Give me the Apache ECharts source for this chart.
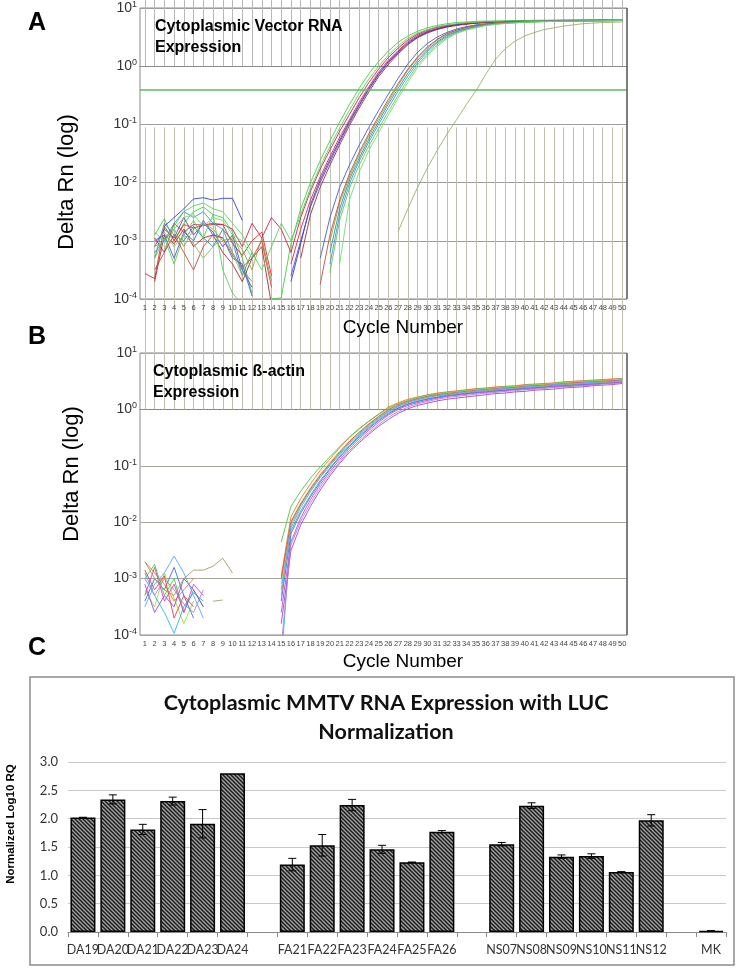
<!DOCTYPE html>
<html><head><meta charset="utf-8">
<script src="https://cdn.jsdelivr.net/npm/echarts@6/dist/echarts.min.js"></script>
<style>html,body{margin:0;padding:0;background:#fff}#c{width:745px;height:970px}</style>
</head><body><div id="c"></div>
<script>
const _ = null;
// x categories (cycle numbers) shared by panels A and B
const cycles = [1,2,3,4,5,6,7,8,9,10,11,12,13,14,15,16,17,18,19,20,21,22,23,24,25,26,27,28,29,30,31,32,33,34,35,36,37,38,39,40,41,42,43,44,45,46,47,48,49,50];
const logTicks = [-4,-3,-2,-1,0,1];

// ---------- Panel A: log10(Delta Rn), cycles 1..50 ----------
const vecThresholdLog = -0.41;
const vecE1 = [_,-2.9,-2.62,-3.0,-2.7,-2.5,-2.42,-2.55,-2.6,-2.85,
  -3.3,-3.9,_,-4.0,-3.98,-3.05,-2.45,-2.0,-1.62,-1.28,
  -0.96,-0.66,-0.38,-0.13,0.08,0.26,0.41,0.52,0.6,0.66,
  0.7,0.73,0.75,0.76,0.77,0.775,0.78,0.78,0.785,0.785,
  0.79,0.79,0.79,0.795,0.795,0.8,0.8,0.8,0.8,0.8];
const vecE2 = [-3.56,-3.65,-2.75,-3.0,-2.72,-2.78,-2.74,-2.72,-2.72,-3.05,
  -3.25,-3.0,-2.85,-3.6,_,-3.4,-2.8,-2.3,-1.9,-1.55,
  -1.22,-0.92,-0.62,-0.35,-0.1,0.1,0.27,0.42,0.53,0.6,
  0.65,0.69,0.71,0.73,0.745,0.755,0.76,0.765,0.77,0.772,
  0.775,0.777,0.78,0.78,0.782,0.784,0.785,0.787,0.788,0.79];
const vecE3 = [_,-3.1,-2.8,-2.95,-2.6,-2.9,-2.7,-2.85,-3.1,-2.9,
  -3.5,-3.8,_,_,_,-3.6,-3.0,-2.42,-2.0,-1.64,
  -1.3,-0.98,-0.68,-0.4,-0.15,0.06,0.23,0.38,0.5,0.58,
  0.64,0.68,0.71,0.73,0.745,0.755,0.76,0.765,0.77,0.775,
  0.775,0.78,0.78,0.782,0.784,0.785,0.787,0.788,0.79,0.79];
const vecE4 = [_,-2.95,-3.2,-2.7,-2.85,-2.72,-2.73,-2.7,-2.72,-2.8,
  -3.1,-2.7,-2.95,-2.6,-2.8,-3.2,-2.6,-2.15,-1.77,-1.44,
  -1.12,-0.83,-0.54,-0.28,-0.05,0.15,0.31,0.45,0.55,0.62,
  0.67,0.7,0.72,0.74,0.75,0.76,0.765,0.77,0.775,0.78,
  0.78,0.782,0.785,0.787,0.79,0.79,0.792,0.795,0.795,0.795];
const vecE5 = [_,_,-2.75,-2.6,-2.45,-2.28,-2.26,-2.3,-2.27,-2.27,
  -2.65,_,_,_,_,-3.7,-3.05,-2.38,-1.95,-1.6,
  -1.27,-0.95,-0.66,-0.38,-0.13,0.08,0.25,0.4,0.51,0.59,
  0.64,0.68,0.71,0.73,0.74,0.75,0.76,0.765,0.77,0.772,
  0.775,0.778,0.78,0.782,0.784,0.786,0.787,0.788,0.79,0.79];
const vecE6 = [_,-3.7,-2.9,-3.05,-2.8,-3.1,-2.95,-2.9,-3.2,-3.4,
  -3.7,-3.3,-3.1,-4.1,_,_,-3.3,-2.55,-2.08,-1.7,
  -1.35,-1.02,-0.72,-0.44,-0.18,0.03,0.21,0.37,0.49,0.57,
  0.63,0.67,0.7,0.72,0.74,0.75,0.76,0.765,0.77,0.775,
  0.775,0.78,0.78,0.782,0.785,0.787,0.788,0.79,0.79,0.792];
const vecE7 = [_,-2.85,-3.0,-2.75,-2.5,-2.4,-2.35,-2.45,-2.5,-2.7,
  -2.9,-3.2,-3.5,-3.1,-2.7,-3.0,-2.55,-2.1,-1.72,-1.38,
  -1.06,-0.76,-0.47,-0.22,0.0,0.19,0.35,0.48,0.57,0.63,
  0.68,0.71,0.73,0.745,0.755,0.765,0.77,0.775,0.78,0.78,
  0.785,0.785,0.79,0.79,0.79,0.795,0.795,0.795,0.8,0.8];
const vecL1 = [_,-3.0,-2.9,-3.3,-2.85,-3.0,-2.65,-2.9,-2.95,-3.3,
  -3.4,-3.95,_,_,_,_,_,_,-3.3,-2.6,
  -2.08,-1.7,-1.36,-1.05,-0.76,-0.48,-0.21,0.04,0.24,0.39,
  0.5,0.58,0.64,0.68,0.71,0.73,0.745,0.755,0.76,0.765,
  0.77,0.772,0.775,0.777,0.78,0.78,0.782,0.784,0.785,0.785];
const vecL2 = [_,-3.3,-2.7,-2.9,-3.0,-2.75,-2.95,-3.1,-2.8,-3.0,
  -3.6,-3.2,_,_,_,_,_,_,_,-3.2,
  -2.45,-1.95,-1.58,-1.25,-0.95,-0.65,-0.38,-0.12,0.1,0.28,
  0.42,0.53,0.6,0.65,0.69,0.72,0.735,0.745,0.755,0.76,
  0.765,0.77,0.772,0.775,0.777,0.78,0.78,0.782,0.784,0.785];
const vecL3 = [_,-3.3,-2.95,-3.4,-2.9,-2.65,-2.95,-2.55,-3.5,-3.9,
  -4.1,_,_,_,_,_,_,_,_,-3.55,
  -2.65,-2.1,-1.7,-1.37,-1.07,-0.78,-0.5,-0.23,0.02,0.21,
  0.37,0.49,0.57,0.63,0.67,0.7,0.72,0.735,0.745,0.755,
  0.76,0.765,0.77,0.772,0.775,0.777,0.78,0.78,0.782,0.784];
const vecL4 = [_,-3.1,-3.0,-2.8,-3.1,-2.8,-2.7,-2.8,-3.0,-2.95,
  -3.15,-3.5,-2.95,-3.7,_,_,_,_,_,-3.0,
  -2.35,-1.9,-1.52,-1.2,-0.9,-0.61,-0.33,-0.07,0.14,0.31,
  0.45,0.55,0.62,0.66,0.7,0.72,0.74,0.75,0.755,0.76,
  0.765,0.77,0.772,0.775,0.777,0.78,0.78,0.782,0.784,0.785];
const vecL5 = [_,-3.5,-3.2,-2.9,-3.2,-3.5,-3.1,-2.9,-2.95,-3.25,
  -3.45,-3.3,-3.0,-3.8,_,_,_,_,-3.75,-2.9,
  -2.3,-1.85,-1.48,-1.16,-0.86,-0.57,-0.3,-0.05,0.16,0.33,
  0.46,0.56,0.62,0.67,0.7,0.72,0.74,0.75,0.76,0.765,
  0.77,0.772,0.775,0.777,0.78,0.78,0.782,0.784,0.785,0.787];
const vecL6 = [_,-3.2,-3.0,-2.7,-2.5,-2.6,-2.5,-2.7,-2.8,-3.2,
  -3.5,-3.7,_,_,_,_,_,_,_,-3.4,
  -2.55,-2.02,-1.63,-1.3,-1.0,-0.71,-0.43,-0.17,0.06,0.25,
  0.4,0.51,0.59,0.64,0.68,0.71,0.73,0.74,0.75,0.76,
  0.765,0.77,0.772,0.775,0.777,0.78,0.78,0.782,0.783,0.785];
const vecL7 = [_,_,-3.15,-2.8,-2.6,-2.55,-2.75,-2.6,-2.65,-2.9,
  -3.0,-3.3,_,_,_,_,_,_,_,_,
  -3.4,-2.3,-1.82,-1.45,-1.14,-0.84,-0.55,-0.28,-0.02,0.18,
  0.34,0.47,0.56,0.62,0.66,0.7,0.72,0.735,0.745,0.755,
  0.76,0.765,0.77,0.772,0.775,0.777,0.78,0.78,0.782,0.784];
const vecV1 = [_,-3.0,-2.85,-3.1,-2.9,-3.05,-3.3,-3.1,-2.95,-3.2,
  -3.6,_,_,_,_,_,_,_,_,_,
  _,_,_,_,_,_,-2.84,-2.45,-2.08,-1.75,
  -1.45,-1.17,-0.92,-0.66,-0.42,-0.14,0.12,0.3,0.43,0.52,
  0.58,0.63,0.66,0.69,0.71,0.73,0.74,0.75,0.755,0.76];
const vecSeries = [vecE1,vecE2,vecE3,vecE4,vecE5,vecE6,vecE7,vecL1,vecL2,vecL3,vecL4,vecL5,vecL6,vecL7,vecV1];
const vecColors = ['#3ed23e','#e0302a','#6a3fd0','#d02050','#3040e0','#a82a30','#58d458',
  '#4060d0','#2a9a8a','#5ccc5c','#9aa040','#c05040','#4a90d0','#70dd70','#95b565'];

// ---------- Panel B: log10(Delta Rn), cycles 1..50 ----------
const actB1 = [-2.7,-2.9,-3.1,-3.4,-3.2,-3.0,_,_,_,_,
  _,_,_,_,-2.95,-1.9,-1.58,-1.32,-1.08,-0.88,
  -0.68,-0.5,-0.35,-0.21,-0.08,0.04,0.12,0.18,0.22,0.26,
  0.29,0.31,0.33,0.35,0.37,0.38,0.4,0.41,0.42,0.44,
  0.45,0.46,0.47,0.49,0.5,0.51,0.52,0.53,0.54,0.55];
const actB2 = [-3.0,-2.75,-3.3,-3.0,-3.6,-3.2,-3.5,_,_,_,
  _,_,_,_,-2.35,-1.72,-1.45,-1.22,-1.02,-0.84,
  -0.66,-0.49,-0.34,-0.21,-0.09,0.02,0.1,0.16,0.21,0.25,
  0.28,0.3,0.32,0.34,0.36,0.37,0.39,0.4,0.41,0.43,
  0.44,0.45,0.46,0.48,0.49,0.5,0.51,0.52,0.53,0.54];
const actB3 = [-3.2,-3.5,-2.9,-3.35,-3.8,-3.4,_,_,_,_,
  _,_,_,_,-3.1,-1.98,-1.66,-1.39,-1.15,-0.94,
  -0.74,-0.56,-0.4,-0.25,-0.12,0.0,0.09,0.15,0.2,0.24,
  0.27,0.29,0.31,0.33,0.35,0.36,0.38,0.39,0.4,0.42,
  0.43,0.44,0.45,0.47,0.48,0.49,0.5,0.51,0.52,0.53];
const actB4 = [-2.9,-3.3,-3.6,-3.97,-3.5,-3.25,-3.4,_,_,_,
  _,_,_,_,-4.5,-2.15,-1.8,-1.52,-1.26,-1.04,
  -0.83,-0.64,-0.47,-0.32,-0.18,-0.06,0.03,0.1,0.15,0.19,
  0.22,0.25,0.27,0.29,0.31,0.32,0.34,0.35,0.36,0.38,
  0.39,0.4,0.42,0.43,0.44,0.45,0.46,0.47,0.48,0.49];
const actB5 = [-3.4,-3.0,-3.2,-2.8,-3.3,-3.7,_,_,_,_,
  _,_,_,_,-3.4,-2.2,-1.84,-1.55,-1.29,-1.06,
  -0.85,-0.66,-0.49,-0.34,-0.2,-0.08,0.02,0.09,0.14,0.18,
  0.21,0.24,0.26,0.28,0.3,0.31,0.33,0.34,0.36,0.37,
  0.38,0.4,0.41,0.42,0.43,0.44,0.45,0.46,0.47,0.48];
const actB6 = [-3.1,-3.6,-3.3,-3.5,-3.0,-3.2,-3.5,_,_,_,
  _,_,_,_,-3.8,-2.5,-2.05,-1.72,-1.43,-1.18,
  -0.96,-0.76,-0.59,-0.44,-0.3,-0.18,-0.07,0.01,0.07,0.11,
  0.15,0.18,0.2,0.22,0.24,0.26,0.28,0.29,0.31,0.32,
  0.34,0.35,0.36,0.38,0.39,0.4,0.42,0.43,0.44,0.46];
const actB7 = [-3.3,-2.8,-3.4,-3.1,-3.6,-3.1,-3.3,_,_,_,
  _,_,_,_,-3.6,-2.35,-1.92,-1.6,-1.33,-1.1,
  -0.89,-0.69,-0.52,-0.37,-0.23,-0.1,0.0,0.07,0.12,0.16,
  0.2,0.23,0.25,0.27,0.29,0.3,0.32,0.33,0.35,0.36,
  0.37,0.39,0.4,0.41,0.42,0.43,0.44,0.46,0.47,0.48];
const actB8 = [-2.85,-3.2,-2.95,-3.7,-3.3,-3.5,_,_,_,_,
  _,_,_,_,-3.0,-2.0,-1.68,-1.41,-1.17,-0.96,
  -0.76,-0.57,-0.41,-0.26,-0.13,-0.01,0.08,0.14,0.19,0.23,
  0.26,0.28,0.3,0.32,0.34,0.35,0.37,0.38,0.39,0.41,
  0.42,0.43,0.44,0.46,0.47,0.48,0.49,0.5,0.51,0.52];
const actB9 = [-2.7,-3.0,-3.2,-3.3,-3.0,-2.85,-2.85,-2.78,-2.64,-2.9,
  _,_,_,_,-3.3,-2.1,-1.74,-1.46,-1.21,-1.0,
  -0.8,-0.61,-0.45,-0.3,-0.16,-0.04,0.05,0.12,0.17,0.21,
  0.24,0.26,0.28,0.3,0.32,0.33,0.35,0.36,0.37,0.39,
  0.4,0.41,0.43,0.44,0.45,0.46,0.47,0.48,0.49,0.5];
const actB10 = [-3.5,-3.1,-2.9,-2.6,-2.9,-3.3,-3.7,_,_,_,
  _,_,_,_,-3.2,-2.05,-1.7,-1.43,-1.19,-0.98,
  -0.78,-0.59,-0.43,-0.28,-0.15,-0.03,0.06,0.13,0.18,0.22,
  0.25,0.27,0.29,0.31,0.33,0.34,0.36,0.37,0.38,0.4,
  0.41,0.42,0.44,0.45,0.46,0.47,0.48,0.49,0.5,0.51];
const actB11 = [-3.0,-3.3,-3.0,-3.2,-3.45,-3.6,-3.2,_,_,_,
  _,_,_,_,-4.2,-2.4,-1.98,-1.66,-1.38,-1.14,
  -0.93,-0.73,-0.56,-0.41,-0.27,-0.14,-0.04,0.04,0.1,0.14,
  0.18,0.21,0.23,0.25,0.27,0.29,0.3,0.32,0.33,0.35,
  0.36,0.37,0.39,0.4,0.41,0.42,0.43,0.45,0.46,0.47];
const actB12 = [_,_,_,_,_,_,_,-3.4,-3.38,_,
  _,_,_,_,_,_,_,_,_,_,
  _,_,_,_,_,_,_,_,_,_,
  _,_,_,_,_,_,_,_,_,_,
  _,_,_,_,_,_,_,_,_,_];
const actSeries = [actB1,actB2,actB3,actB4,actB5,actB6,actB7,actB8,actB9,actB10,actB11,actB12];
const actColors = ['#f07820','#48c848','#a8d838','#30b8d8','#3a70e0','#9848d8','#d048c8','#e04848','#a89868','#58a8f0','#b080e0','#a8a070'];

// ---------- Panel C ----------
const cCategories = ['DA19','DA20','DA21','DA22','DA23','DA24','','FA21','FA22','FA23','FA24','FA25','FA26','','NS07','NS08','NS09','NS10','NS11','NS12','','MK'];
const cValues = [2.02,2.34,1.81,2.31,1.91,2.80,_,1.19,1.53,2.24,1.46,1.23,1.77,_,1.55,2.23,1.33,1.34,1.06,1.97,_,0.02];
const cErrors = [0.005,0.08,0.09,0.07,0.25,0,_,0.11,0.19,0.10,0.07,0.005,0.02,_,0.03,0.05,0.03,0.04,0.005,0.10,_,0.005];
const cTicks = [0,0.5,1,1.5,2,2.5,3];

function hatch(){
  const cv = document.createElement('canvas'); cv.width = 4; cv.height = 4;
  const g = cv.getContext('2d');
  g.fillStyle = '#a4a4a4'; g.fillRect(0,0,4,4);
  g.strokeStyle = '#1c1c1c'; g.lineWidth = 1.5;
  g.beginPath();
  g.moveTo(-1,-1); g.lineTo(5,5);
  g.moveTo(-1,3); g.lineTo(1,5);
  g.moveTo(3,-1); g.lineTo(5,1);
  g.stroke();
  return cv;
}

const FONT = 'Liberation Sans, Arial, sans-serif';
const chart = echarts.init(document.getElementById('c'), null, {renderer:'canvas'});

function logAxisLabel(){
  return {
    margin: 3,
    formatter: v => '{b|10}{s|' + v + '}',
    rich: {
      b: {fontSize: 14, color: '#333', fontFamily: FONT, lineHeight: 16},
      s: {fontSize: 9, color: '#333', fontFamily: FONT, lineHeight: 10, verticalAlign: 'top'}
    }
  };
}
function cycleXAxis(gi, h, tickColor){
  return {
    gridIndex: gi, type: 'category', data: cycles, boundaryGap: true,
    axisLine: {show: true, lineStyle: {color: '#888', width: 1}},
    axisTick: {show: true, alignWithLabel: true, inside: true, length: h, interval: 0, lineStyle: {color: tickColor, width: 1}},
    axisLabel: {interval: 0, fontSize: 7.5, color: '#444', margin: 5, fontFamily: FONT},
    splitLine: {show: false}
  };
}
function logYAxis(gi, splitColor){
  return {
    gridIndex: gi, type: 'value', min: logTicks[0], max: logTicks[logTicks.length-1], interval: 1,
    axisLine: {show: false}, axisTick: {show: false},
    splitLine: {show: true, lineStyle: {color: splitColor, width: 1}},
    axisLabel: logAxisLabel()
  };
}

const series = [];
vecSeries.forEach((d, i) => {
  series.push({type: 'line', xAxisIndex: 0, yAxisIndex: 0, data: d, symbol: 'none', showSymbol: false,
    connectNulls: false, silent: true, animation: false, z: 3,
    lineStyle: {width: 1, color: vecColors[i], opacity: 0.9}});
});
series[0].markLine = {silent: true, symbol: 'none', animation: false,
  data: [{yAxis: vecThresholdLog}], label: {show: false},
  lineStyle: {color: '#5fb85f', width: 1.5, type: 'solid'}};
actSeries.forEach((d, i) => {
  series.push({type: 'line', xAxisIndex: 1, yAxisIndex: 1, data: d, symbol: 'none', showSymbol: false,
    connectNulls: false, silent: true, animation: false, z: 3,
    lineStyle: {width: 1, color: actColors[i], opacity: 0.9}});
});
series.push({type: 'bar', xAxisIndex: 2, yAxisIndex: 2, data: cValues, barWidth: 25, animation: false, silent: true,
  itemStyle: {color: {image: hatch(), repeat: 'repeat'}, borderColor: '#000', borderWidth: 1.5}});
const errData = [];
cValues.forEach((v, i) => { if (v != null && cErrors[i] > 0) errData.push([i, v - cErrors[i], v + cErrors[i]]); });
series.push({type: 'custom', xAxisIndex: 2, yAxisIndex: 2, data: errData, z: 5, animation: false, silent: true,
  encode: {x: 0, y: [1, 2]},
  renderItem: (params, api) => {
    const x = api.value(0), lo = api.coord([x, api.value(1)]), hi = api.coord([x, api.value(2)]);
    const w = 4, st = {stroke: '#000', lineWidth: 1};
    return {type: 'group', children: [
      {type: 'line', shape: {x1: lo[0], y1: lo[1], x2: hi[0], y2: hi[1]}, style: st},
      {type: 'line', shape: {x1: lo[0]-w, y1: lo[1], x2: lo[0]+w, y2: lo[1]}, style: st},
      {type: 'line', shape: {x1: hi[0]-w, y1: hi[1], x2: hi[0]+w, y2: hi[1]}, style: st}
    ]};
  }});

function txt(x, y, text, size, opts){
  return Object.assign({type: 'text', x: x, y: y, silent: true, z: 10,
    style: Object.assign({text: text, fontSize: size, fontFamily: FONT, fill: '#000', align: 'left', verticalAlign: 'middle'}, (opts && opts.style) || {})},
    (opts && opts.el) || {});
}

chart.setOption({
  animation: false,
  backgroundColor: '#fff',
  grid: [
    {left: 140, top: 8, width: 487, height: 291, show: true, borderColor: '#8a8a8a', borderWidth: 1, backgroundColor: '#fff'},
    {left: 140, top: 353, width: 487, height: 282, show: true, borderColor: '#8a8a8a', borderWidth: 1, backgroundColor: '#fff'},
    {left: 68, top: 762, width: 658, height: 170, show: false}
  ],
  xAxis: [
    cycleXAxis(0, 291, '#b8b8b8'),
    cycleXAxis(1, 282, '#c2beb2'),
    {gridIndex: 2, type: 'category', data: cCategories, boundaryGap: true,
     axisLine: {show: true, lineStyle: {color: '#8a8a8a', width: 1}},
     axisTick: {show: true, interval: 0, length: 5, lineStyle: {color: '#8a8a8a'}},
     axisLabel: {interval: 0, fontSize: 12.5, color: '#333', margin: 11, fontFamily: 'Lato, sans-serif'},
     splitLine: {show: false}}
  ],
  yAxis: [
    logYAxis(0, '#9c9c9c'),
    logYAxis(1, '#aaa69a'),
    {gridIndex: 2, type: 'value', min: cTicks[0], max: cTicks[cTicks.length-1], interval: 0.5,
     axisLine: {show: false}, axisTick: {show: false},
     splitLine: {show: true, lineStyle: {color: '#c8c8c8', width: 1}},
     axisLabel: {formatter: v => v.toFixed(1), fontSize: 13, color: '#333', margin: 10, fontFamily: 'Lato, sans-serif'}}
  ],
  series: series,
  graphic: [
    {type: 'rect', shape: {x: 30, y: 677, width: 704, height: 288}, style: {fill: 'none', stroke: '#8c8c8c', lineWidth: 1.5}, silent: true, z: -1},
    {type: 'line', shape: {x1: 627, y1: 8, x2: 627, y2: 299}, style: {stroke: '#666', lineWidth: 1.5}, silent: true, z: 9},
    {type: 'line', shape: {x1: 627, y1: 353, x2: 627, y2: 635}, style: {stroke: '#666', lineWidth: 1.5}, silent: true, z: 9},
    txt(37, 23, 'A', 25, {style: {fontWeight: 'bold', align: 'center'}}),
    txt(37, 337, 'B', 25, {style: {fontWeight: 'bold', align: 'center'}}),
    txt(37, 648, 'C', 25, {style: {fontWeight: 'bold', align: 'center'}}),
    txt(155, 27, 'Cytoplasmic Vector RNA', 16, {style: {fontWeight: 'bold'}}),
    txt(155, 48, 'Expression', 16, {style: {fontWeight: 'bold'}}),
    txt(153, 372, 'Cytoplasmic ß-actin', 16, {style: {fontWeight: 'bold'}}),
    txt(153, 393, 'Expression', 16, {style: {fontWeight: 'bold'}}),
    txt(67, 182, 'Delta Rn (log)', 22, {style: {align: 'center'}, el: {rotation: Math.PI / 2}}),
    txt(72, 474, 'Delta Rn (log)', 22, {style: {align: 'center'}, el: {rotation: Math.PI / 2}}),
    txt(403, 328, 'Cycle Number', 19, {style: {align: 'center'}}),
    txt(403, 662, 'Cycle Number', 19, {style: {align: 'center'}}),
    txt(386, 703, 'Cytoplasmic MMTV RNA Expression with LUC', 21.5, {style: {fontWeight: 'bold', align: 'center', fontFamily: 'Lato, sans-serif', fill: '#111'}}),
    txt(386, 732, 'Normalization', 21.5, {style: {fontWeight: 'bold', align: 'center', fontFamily: 'Lato, sans-serif', fill: '#111'}}),
    txt(11, 824, 'Normalized Log10 RQ', 11.5, {style: {fontWeight: 'bold', align: 'center'}, el: {rotation: Math.PI / 2}})
  ]
});
</script></body></html>
